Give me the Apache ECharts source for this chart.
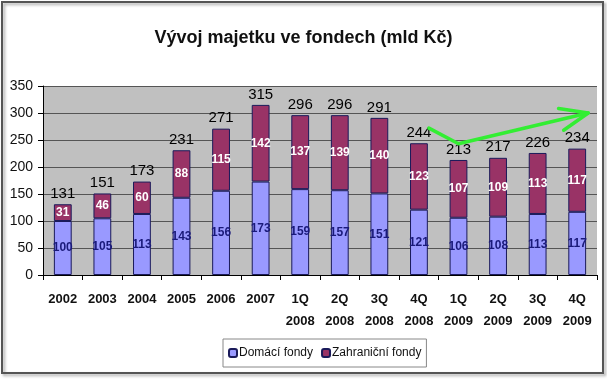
<!DOCTYPE html>
<html><head><meta charset="utf-8">
<script src="https://cdn.jsdelivr.net/npm/echarts@6/dist/echarts.min.js"></script>
<style>html,body{margin:0;padding:0;background:#fff}#c{width:607px;height:379px}</style>
</head><body><div id="c"></div>
<script>
const categories = ['2002','2003','2004','2005','2006','2007','1Q\n2008','2Q\n2008','3Q\n2008','4Q\n2008','1Q\n2009','2Q\n2009','3Q\n2009','4Q\n2009'];
const domestic = [100,105,113,143,156,173,159,157,151,121,106,108,113,117];
const foreign = [31,46,60,88,115,142,137,139,140,123,107,109,113,117];
const totals = [131,151,173,231,271,315,296,296,291,244,213,217,226,234];
const yTicks = [0,50,100,150,200,250,300,350];
const seriesNames = ['Domácí fondy','Zahraniční fondy'];
const titleText = 'Vývoj majetku ve fondech (mld Kč)';
// trend arrow annotation (category index, value, pixel nudge)
const arrowPts = [[9, 272, 10], [10, 243, 0], [13, 300, 11]];

const FONT = '"Liberation Sans Narrow", "Liberation Sans", Arial, sans-serif';
const chart = echarts.init(document.getElementById('c'));
chart.setOption({
  animation: false,
  backgroundColor: '#fff',
  textStyle: {fontFamily: FONT},
  title: {text: titleText, left: 'center', top: 24,
    textStyle: {fontFamily: FONT, fontSize: 18, fontWeight: 'bold', color: '#111'}},
  legend: {data: seriesNames, bottom: 12, left: 223, itemWidth: 8, itemHeight: 8, itemGap: 8,
    borderColor: '#888', borderWidth: 1, padding: [8, 5],
    textStyle: {fontFamily: FONT, fontSize: 12, color: '#111', padding: [0, 0, 0, -3]}},
  grid: {left: 43, right: 10, top: 86, bottom: 104, show: true, backgroundColor: '#C0C0C0', borderWidth: 0},
  xAxis: {type: 'category', data: categories,
    axisLine: {lineStyle: {color: '#000'}},
    axisTick: {show: true, length: 5, lineStyle: {color: '#000'}},
    axisLabel: {margin: 13, fontFamily: FONT, fontSize: 13, fontWeight: 'bold', color: '#111', lineHeight: 22, interval: 0}},
  yAxis: {type: 'value', min: 0, max: 350, interval: 50,
    axisLine: {show: true, lineStyle: {color: '#000'}},
    axisTick: {show: true, length: 5, lineStyle: {color: '#000'}},
    axisLabel: {margin: 10, fontFamily: FONT, fontSize: 14, color: '#111',
      formatter: v => yTicks.includes(v) ? String(v) : ''},
    splitLine: {lineStyle: {color: '#555', width: 1}}},
  series: [
    {name: seriesNames[0], type: 'bar', stack: 's', data: domestic, barWidth: '45%',
      itemStyle: {color: '#9999FF', borderColor: '#1a1a5a', borderWidth: 1},
      label: {show: true, position: 'inside', fontFamily: FONT, fontSize: 12, fontWeight: 'bold', color: '#1a1a7a'}},
    {name: seriesNames[1], type: 'bar', stack: 's', data: foreign, barWidth: '45%',
      itemStyle: {color: '#993366', borderColor: '#1a1a5a', borderWidth: 1},
      label: {show: true, position: 'inside', fontFamily: FONT, fontSize: 12, fontWeight: 'bold', color: '#fff'}},
    {name: 'total', type: 'bar', stack: 's', data: totals.map(() => 0), barWidth: '45%',
      itemStyle: {color: 'transparent'}, silent: true,
      label: {show: true, position: 'top', distance: 3, fontFamily: FONT, fontSize: 15, color: '#000',
        formatter: p => String(totals[p.dataIndex])}}
  ]
});

const pts = arrowPts.map(([i, v, dx]) => {
  const p = chart.convertToPixel({gridIndex: 0}, [i, v]);
  return [p[0] + dx, p[1]];
});
const end = pts[pts.length - 1], prev = pts[pts.length - 2];
const ang = Math.atan2(end[1] - prev[1], end[0] - prev[0]);
const L = 30, A = 0.38;
const h1 = [end[0] - L * Math.cos(ang - A), end[1] - L * Math.sin(ang - A)];
const h2 = [end[0] - L * Math.cos(ang + A), end[1] - L * Math.sin(ang + A)];
chart.setOption({graphic: [
  {type: 'rect', shape: {x: 2, y: 2, width: 601, height: 371}, z: -10, silent: true,
    style: {fill: 'rgba(0,0,0,0)', stroke: '#555', lineWidth: 2, shadowBlur: 3, shadowOffsetX: 2, shadowOffsetY: 2, shadowColor: 'rgba(0,0,0,0.35)'}},
  {type: 'polyline', shape: {points: pts}, z: 100, silent: true,
    style: {stroke: '#33EE33', lineWidth: 3.5, fill: null, lineJoin: 'round', lineCap: 'round'}},
  {type: 'polyline', shape: {points: [h1, end, h2]}, z: 100, silent: true,
    style: {stroke: '#33EE33', lineWidth: 3.5, fill: null, lineJoin: 'round', lineCap: 'round'}}
]});
</script></body></html>
